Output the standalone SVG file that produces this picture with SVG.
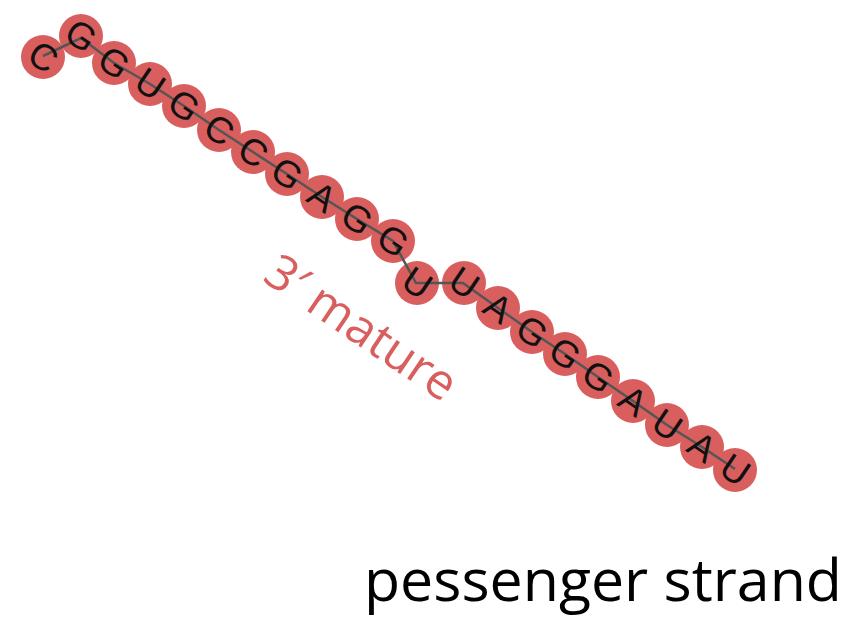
<svg xmlns="http://www.w3.org/2000/svg" width="855" height="628" viewBox="0 0 855 628">
<style>
.nd circle{fill:#d95f5f}
.nd text{font-family:"Liberation Sans",Arial,sans-serif;font-size:37px;fill:#111;text-anchor:middle;dominant-baseline:central}
.lk{fill:none;stroke:#555;stroke-width:2.5}
.lbl{font-family:"Open Sans","Noto Sans",sans-serif;font-size:49px;font-weight:400;fill:#d95f5f}
.ttl{font-family:"Open Sans","Noto Sans",sans-serif;font-size:59px;fill:#000}
</style>
<rect width="855" height="628" fill="#fff"/>
<g id="nodes-bg">
<g id="n1" class="nd"><circle cx="43" cy="57" r="22"/></g>
<g id="n2" class="nd"><circle cx="81" cy="36" r="22"/></g>
<g id="n3" class="nd"><circle cx="114" cy="63" r="22"/></g>
<g id="n4" class="nd"><circle cx="150" cy="84" r="22"/></g>
<g id="n5" class="nd"><circle cx="184" cy="106" r="22"/></g>
<g id="n6" class="nd"><circle cx="219" cy="130" r="22"/></g>
<g id="n7" class="nd"><circle cx="253" cy="152" r="22"/></g>
<g id="n8" class="nd"><circle cx="287" cy="174" r="22"/></g>
<g id="n9" class="nd"><circle cx="322" cy="197" r="22"/></g>
<g id="n10" class="nd"><circle cx="357" cy="219" r="22"/></g>
<g id="n11" class="nd"><circle cx="393" cy="241" r="22"/></g>
<g id="n12" class="nd"><circle cx="417" cy="283" r="22"/></g>
<g id="n13" class="nd"><circle cx="464" cy="283" r="22"/></g>
<g id="n14" class="nd"><circle cx="498" cy="308" r="22"/></g>
<g id="n15" class="nd"><circle cx="532" cy="332" r="22"/></g>
<g id="n16" class="nd"><circle cx="565" cy="354" r="22"/></g>
<g id="n17" class="nd"><circle cx="598" cy="377" r="22"/></g>
<g id="n18" class="nd"><circle cx="633" cy="401" r="22"/></g>
<g id="n19" class="nd"><circle cx="667" cy="425" r="22"/></g>
<g id="n20" class="nd"><circle cx="702" cy="447" r="22"/></g>
<g id="n21" class="nd"><circle cx="735" cy="470" r="22"/></g>
</g>
<g id="connectors">
<polyline class="lk" points="43,56 81,38 114,63 150,84 184,106 219,130 253,152 287,174 322,197 357,219 393,241 416,283 463,283 498,308 532,332 565,354 598,377 633,401 667,425 702,447 735,469"/>
</g>
<g id="labels" class="nd">
<text transform="translate(43,57) rotate(34)">C</text>
<text transform="translate(81,36) rotate(34)">G</text>
<text transform="translate(114,63) rotate(34)">G</text>
<text transform="translate(150,84) rotate(34)">U</text>
<text transform="translate(184,106) rotate(34)">G</text>
<text transform="translate(219,130) rotate(34)">C</text>
<text transform="translate(253,152) rotate(34)">C</text>
<text transform="translate(287,174) rotate(34)">G</text>
<text transform="translate(322,197) rotate(34)">A</text>
<text transform="translate(357,219) rotate(34)">G</text>
<text transform="translate(393,241) rotate(34)">G</text>
<text transform="translate(417,283) rotate(34)">U</text>
<text transform="translate(464,283) rotate(34)">U</text>
<text transform="translate(498,308) rotate(34)">A</text>
<text transform="translate(532,332) rotate(34)">G</text>
<text transform="translate(565,354) rotate(34)">G</text>
<text transform="translate(598,377) rotate(34)">G</text>
<text transform="translate(633,401) rotate(34)">A</text>
<text transform="translate(667,425) rotate(34)">U</text>
<text transform="translate(702,447) rotate(34)">A</text>
<text transform="translate(735,470) rotate(34)">U</text>
</g>
<text class="lbl" transform="translate(261,280) rotate(34)">3′ mature</text>
<text class="ttl" x="364" y="601" textLength="478" lengthAdjust="spacingAndGlyphs">pessenger strand</text>
</svg>
